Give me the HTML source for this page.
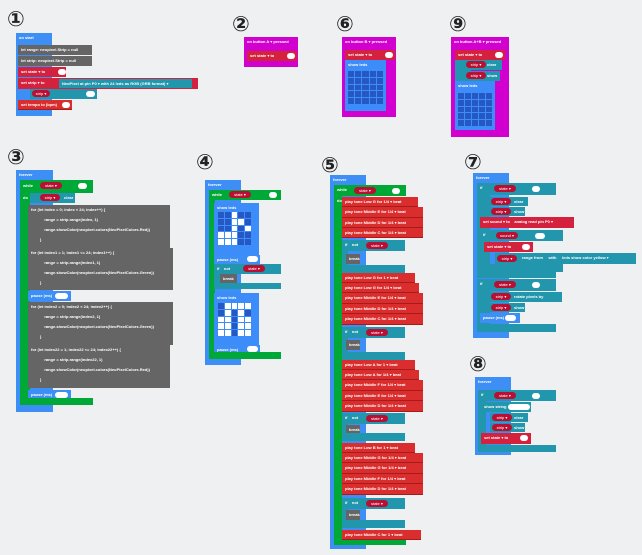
<!DOCTYPE html>
<html><head><meta charset="utf-8">
<style>
body{margin:0;width:642px;height:555px;background:#eef0f2;position:relative;overflow:hidden;font-family:"Liberation Sans","DejaVu Sans",sans-serif}
.b{position:absolute;color:#fff;font-size:4px;font-weight:bold;line-height:9px;padding-left:3px;box-sizing:border-box;white-space:nowrap;overflow:hidden}
.n{position:absolute;font-size:21px;font-weight:bold;color:#222;font-family:"DejaVu Sans",sans-serif;line-height:19px}
.bl{background:#3d8ff5}.gr{background:#00a838}.rd{background:#d4213d}.mu{background:#da2e2e;border-bottom:1px solid #a81b1b}
.gy{background:#656565}.tl{background:#2196ad}.mg{background:#d100cf}.lb{background:#3c8dfa}
.p{position:absolute;background:#fff;border-radius:4px;height:6px}
.vp{position:absolute;background:#b80f33;border-radius:4px;height:7px;color:#fff;font-size:4px;line-height:7px;text-align:center}
.g{position:absolute;display:grid;grid-template-columns:repeat(5,1fr);gap:1px}
.g i{background:#2658c4;display:block}.g i.w{background:#fff}
</style></head><body>

<!-- 1 -->
<div class="n" style="left:7px;top:10px">①</div>
<div class="b bl" style="left:16px;top:33px;width:36px;height:83px">on start</div>
<div class="b gy" style="left:18px;top:45px;width:74px;height:10px">let range: neopixel.Strip = null</div>
<div class="b gy" style="left:18px;top:56px;width:74px;height:10px">let strip: neopixel.Strip = null</div>
<div class="b rd" style="left:18px;top:67px;width:48px;height:10px">set state ▾ to</div>
<div class="p" style="left:58px;top:69px;width:8px"></div>
<div class="b rd" style="left:18px;top:78px;width:180px;height:11px">set strip ▾ to</div>
<div class="b tl" style="left:59px;top:79px;width:133px;height:9px">NeoPixel at pin P0 ▾ with 24 leds as RGB (GRB format) ▾</div>
<div class="b tl" style="left:30px;top:89px;width:67px;height:10px"></div>
<div class="vp" style="left:32px;top:90px;width:18px">strip ▾</div>
<div class="p" style="left:86px;top:91px;width:9px"></div>
<div class="b mu" style="left:18px;top:100px;width:54px;height:10px">set tempo to (bpm)</div>
<div class="p" style="left:62px;top:102px;width:8px"></div>

<!-- 2 -->
<div class="n" style="left:232px;top:15px">②</div>
<div class="b mg" style="left:244px;top:37px;width:54px;height:30px">on button A ▾ pressed</div>
<div class="b rd" style="left:247px;top:51px;width:50px;height:10px">set state ▾ to</div>
<div class="p" style="left:287px;top:53px;width:8px"></div>

<!-- 6 -->
<div class="n" style="left:336px;top:15px">⑥</div>
<div class="b mg" style="left:342px;top:37px;width:54px;height:80px">on button B ▾ pressed</div>
<div class="b rd" style="left:345px;top:50px;width:50px;height:10px">set state ▾ to</div>
<div class="p" style="left:385px;top:52px;width:8px"></div>
<div class="b lb" style="left:345px;top:60px;width:41px;height:51px">show leds</div>
<div class="g" style="left:348px;top:71px;width:35px;height:33px"><i></i><i></i><i></i><i></i><i></i><i></i><i></i><i></i><i></i><i></i><i></i><i></i><i></i><i></i><i></i><i></i><i></i><i></i><i></i><i></i><i></i><i></i><i></i><i></i><i></i></div>

<!-- 9 -->
<div class="n" style="left:449px;top:15px">⑨</div>
<div class="b mg" style="left:451px;top:37px;width:58px;height:100px">on button A+B ▾ pressed</div>
<div class="b rd" style="left:455px;top:50px;width:50px;height:10px">set state ▾ to</div>
<div class="p" style="left:495px;top:52px;width:8px"></div>
<div class="b tl" style="left:455px;top:60px;width:16px;height:21px"></div>
<div class="b tl" style="left:465px;top:60px;width:37px;height:10px;padding-left:22px">clear</div>
<div class="vp" style="left:466px;top:61px;width:20px">strip ▾</div>
<div class="b tl" style="left:465px;top:71px;width:35px;height:10px;padding-left:22px">show</div>
<div class="vp" style="left:466px;top:72px;width:20px">strip ▾</div>
<div class="b lb" style="left:455px;top:81px;width:40px;height:49px">show leds</div>
<div class="g" style="left:458px;top:93px;width:34px;height:33px"><i></i><i></i><i></i><i></i><i></i><i></i><i></i><i></i><i></i><i></i><i></i><i></i><i></i><i></i><i></i><i></i><i></i><i></i><i></i><i></i><i></i><i></i><i></i><i></i><i></i></div>

<!-- 3 -->
<div class="n" style="left:7px;top:148px">③</div>
<div class="b bl" style="left:16px;top:170px;width:37px;height:242px">forever</div>
<div class="b gr" style="left:20px;top:180px;width:73px;height:13px;line-height:11px">while</div>
<div class="vp" style="left:40px;top:182px;width:22px">state ▾</div>
<div class="p" style="left:78px;top:183px;width:9px"></div>
<div class="b gr" style="left:20px;top:193px;width:10px;height:212px">do</div>
<div class="b tl" style="left:30px;top:193px;width:45px;height:10px;padding-left:34px">clear</div>
<div class="vp" style="left:40px;top:194px;width:20px">strip ▾</div>
<div class="b gy" style="left:28px;top:205px;width:142px;height:43px;line-height:10px">for (let index = 0; index &lt; 24; index++) {<br>&nbsp;&nbsp;&nbsp;&nbsp;&nbsp;&nbsp;&nbsp;&nbsp;&nbsp;&nbsp;&nbsp;&nbsp;range = strip.range(index, 1)<br>&nbsp;&nbsp;&nbsp;&nbsp;&nbsp;&nbsp;&nbsp;&nbsp;&nbsp;&nbsp;&nbsp;&nbsp;range.showColor(neopixel.colors(NeoPixelColors.Red))<br>&nbsp;&nbsp;&nbsp;&nbsp;&nbsp;&nbsp;&nbsp;&nbsp;}</div>
<div class="b gy" style="left:28px;top:248px;width:145px;height:42px;line-height:10px">for (let index1 = 1; index1 &lt;= 24; index1++) {<br>&nbsp;&nbsp;&nbsp;&nbsp;&nbsp;&nbsp;&nbsp;&nbsp;&nbsp;&nbsp;&nbsp;&nbsp;range = strip.range(index1, 1)<br>&nbsp;&nbsp;&nbsp;&nbsp;&nbsp;&nbsp;&nbsp;&nbsp;&nbsp;&nbsp;&nbsp;&nbsp;range.showColor(neopixel.colors(NeoPixelColors.Green))<br>&nbsp;&nbsp;&nbsp;&nbsp;&nbsp;&nbsp;&nbsp;&nbsp;}</div>
<div class="b bl" style="left:28px;top:291px;width:43px;height:10px">pause (ms)</div>
<div class="p" style="left:55px;top:293px;width:13px"></div>
<div class="b gy" style="left:28px;top:302px;width:145px;height:43px;line-height:10px">for (let index2 = 0; index2 &lt; 24; index2++) {<br>&nbsp;&nbsp;&nbsp;&nbsp;&nbsp;&nbsp;&nbsp;&nbsp;&nbsp;&nbsp;&nbsp;&nbsp;range = strip.range(index2, 1)<br>&nbsp;&nbsp;&nbsp;&nbsp;&nbsp;&nbsp;&nbsp;&nbsp;&nbsp;&nbsp;&nbsp;&nbsp;range.showColor(neopixel.colors(NeoPixelColors.Green))<br>&nbsp;&nbsp;&nbsp;&nbsp;&nbsp;&nbsp;&nbsp;&nbsp;}</div>
<div class="b gy" style="left:28px;top:345px;width:142px;height:43px;line-height:10px">for (let index22 = 1; index22 &lt;= 24; index22++) {<br>&nbsp;&nbsp;&nbsp;&nbsp;&nbsp;&nbsp;&nbsp;&nbsp;&nbsp;&nbsp;&nbsp;&nbsp;range = strip.range(index22, 1)<br>&nbsp;&nbsp;&nbsp;&nbsp;&nbsp;&nbsp;&nbsp;&nbsp;&nbsp;&nbsp;&nbsp;&nbsp;range.showColor(neopixel.colors(NeoPixelColors.Red))<br>&nbsp;&nbsp;&nbsp;&nbsp;&nbsp;&nbsp;&nbsp;&nbsp;}</div>
<div class="b bl" style="left:28px;top:390px;width:43px;height:10px">pause (ms)</div>
<div class="p" style="left:55px;top:392px;width:13px"></div>
<div class="b gr" style="left:20px;top:398px;width:73px;height:7px"></div>

<!-- 4 -->
<div class="n" style="left:196px;top:153px">④</div>
<div class="b bl" style="left:205px;top:180px;width:36px;height:185px">forever</div>
<div class="b gr" style="left:209px;top:190px;width:72px;height:10px">while</div>
<div class="vp" style="left:229px;top:191px;width:22px">state ▾</div>
<div class="p" style="left:269px;top:192px;width:8px"></div>
<div class="b gr" style="left:209px;top:200px;width:6px;height:155px"></div>
<div class="b lb" style="left:214px;top:203px;width:45px;height:52px">show leds</div>
<div class="g" style="left:218px;top:212px;width:33px;height:33px"><i></i><i></i><i class="w"></i><i></i><i></i><i></i><i></i><i class="w"></i><i class="w"></i><i></i><i></i><i></i><i class="w"></i><i></i><i class="w"></i><i class="w"></i><i class="w"></i><i class="w"></i><i></i><i></i><i class="w"></i><i class="w"></i><i class="w"></i><i></i><i></i></div>
<div class="b bl" style="left:214px;top:255px;width:46px;height:9px">pause (ms)</div>
<div class="p" style="left:247px;top:256px;width:11px"></div>
<div class="b tl" style="left:214px;top:264px;width:67px;height:10px">if &nbsp;&nbsp; not</div>
<div class="vp" style="left:243px;top:265px;width:22px">state ▾</div>
<div class="b tl" style="left:214px;top:274px;width:6px;height:14px"></div>
<div class="b gy" style="left:220px;top:274px;width:17px;height:9px">break</div>
<div class="b tl" style="left:214px;top:283px;width:67px;height:6px"></div>
<div class="b lb" style="left:214px;top:293px;width:45px;height:52px">show leds</div>
<div class="g" style="left:218px;top:303px;width:33px;height:33px"><i></i><i class="w"></i><i class="w"></i><i class="w"></i><i class="w"></i><i></i><i class="w"></i><i></i><i class="w"></i><i></i><i class="w"></i><i class="w"></i><i></i><i class="w"></i><i class="w"></i><i class="w"></i><i class="w"></i><i></i><i class="w"></i><i class="w"></i><i class="w"></i><i class="w"></i><i></i><i class="w"></i><i class="w"></i></div>
<div class="b bl" style="left:214px;top:345px;width:46px;height:9px">pause (ms)</div>
<div class="p" style="left:247px;top:346px;width:11px"></div>
<div class="b gr" style="left:209px;top:352px;width:72px;height:7px"></div>

<!-- 5 -->
<div class="n" style="left:321px;top:156px">⑤</div>
<div class="b bl" style="left:330px;top:175px;width:36px;height:374px">forever</div>
<div class="b gr" style="left:334px;top:185px;width:72px;height:11px">while</div>
<div class="vp" style="left:354px;top:187px;width:22px">state ▾</div>
<div class="p" style="left:392px;top:188px;width:8px"></div>
<div class="b gr" style="left:334px;top:196px;width:8px;height:349px">do</div>
<div class="b gr" style="left:334px;top:538px;width:72px;height:7px"></div>

<div class="b mu" style="left:342px;top:197px;width:76px;height:10px">play tone Low G for 1/4 ▾ beat</div>
<div class="b mu" style="left:342px;top:207px;width:81px;height:11px">play tone Middle E for 1/4 ▾ beat</div>
<div class="b mu" style="left:342px;top:218px;width:81px;height:10px">play tone Middle D for 1/4 ▾ beat</div>
<div class="b mu" style="left:342px;top:228px;width:81px;height:10px">play tone Middle C for 1/4 ▾ beat</div>
<div class="b tl" style="left:342px;top:240px;width:63px;height:11px">if &nbsp;&nbsp; not &nbsp;&nbsp;&nbsp;&nbsp;&nbsp;&nbsp;&nbsp;&nbsp;&nbsp;&nbsp;&nbsp;&nbsp;&nbsp;&nbsp;&nbsp;&nbsp;&nbsp; then</div>
<div class="vp" style="left:366px;top:242px;width:22px">state ▾</div>
<div class="b tl" style="left:342px;top:251px;width:6px;height:14px"></div>
<div class="b gy" style="left:346px;top:254px;width:14px;height:10px">break</div>
<div class="b tl" style="left:342px;top:265px;width:63px;height:8px"></div>

<div class="b mu" style="left:342px;top:273px;width:73px;height:10px">play tone Low G for 1 ▾ beat</div>
<div class="b mu" style="left:342px;top:283px;width:77px;height:10px">play tone Low G for 1/4 ▾ beat</div>
<div class="b mu" style="left:342px;top:293px;width:81px;height:11px">play tone Middle E for 1/4 ▾ beat</div>
<div class="b mu" style="left:342px;top:304px;width:81px;height:10px">play tone Middle D for 1/4 ▾ beat</div>
<div class="b mu" style="left:342px;top:314px;width:81px;height:11px">play tone Middle C for 1/4 ▾ beat</div>
<div class="b tl" style="left:342px;top:327px;width:63px;height:11px">if &nbsp;&nbsp; not &nbsp;&nbsp;&nbsp;&nbsp;&nbsp;&nbsp;&nbsp;&nbsp;&nbsp;&nbsp;&nbsp;&nbsp;&nbsp;&nbsp;&nbsp;&nbsp;&nbsp; then</div>
<div class="vp" style="left:366px;top:329px;width:22px">state ▾</div>
<div class="b tl" style="left:342px;top:338px;width:6px;height:14px"></div>
<div class="b gy" style="left:346px;top:340px;width:14px;height:10px">break</div>
<div class="b tl" style="left:342px;top:352px;width:63px;height:8px"></div>

<div class="b mu" style="left:342px;top:360px;width:73px;height:10px">play tone Low A for 1 ▾ beat</div>
<div class="b mu" style="left:342px;top:370px;width:77px;height:10px">play tone Low A for 1/4 ▾ beat</div>
<div class="b mu" style="left:342px;top:380px;width:81px;height:11px">play tone Middle F for 1/4 ▾ beat</div>
<div class="b mu" style="left:342px;top:391px;width:81px;height:10px">play tone Middle E for 1/4 ▾ beat</div>
<div class="b mu" style="left:342px;top:401px;width:81px;height:11px">play tone Middle D for 1/4 ▾ beat</div>
<div class="b tl" style="left:342px;top:413px;width:63px;height:11px">if &nbsp;&nbsp; not &nbsp;&nbsp;&nbsp;&nbsp;&nbsp;&nbsp;&nbsp;&nbsp;&nbsp;&nbsp;&nbsp;&nbsp;&nbsp;&nbsp;&nbsp;&nbsp;&nbsp; then</div>
<div class="vp" style="left:366px;top:415px;width:22px">state ▾</div>
<div class="b tl" style="left:342px;top:424px;width:6px;height:14px"></div>
<div class="b gy" style="left:346px;top:425px;width:14px;height:10px">break</div>
<div class="b tl" style="left:342px;top:433px;width:63px;height:8px"></div>

<div class="b mu" style="left:342px;top:443px;width:73px;height:10px">play tone Low B for 1 ▾ beat</div>
<div class="b mu" style="left:342px;top:453px;width:81px;height:10px">play tone Middle G for 1/4 ▾ beat</div>
<div class="b mu" style="left:342px;top:463px;width:81px;height:11px">play tone Middle G for 1/4 ▾ beat</div>
<div class="b mu" style="left:342px;top:474px;width:81px;height:10px">play tone Middle F for 1/4 ▾ beat</div>
<div class="b mu" style="left:342px;top:484px;width:81px;height:11px">play tone Middle D for 1/4 ▾ beat</div>
<div class="b tl" style="left:342px;top:498px;width:63px;height:11px">if &nbsp;&nbsp; not &nbsp;&nbsp;&nbsp;&nbsp;&nbsp;&nbsp;&nbsp;&nbsp;&nbsp;&nbsp;&nbsp;&nbsp;&nbsp;&nbsp;&nbsp;&nbsp;&nbsp; then</div>
<div class="vp" style="left:366px;top:500px;width:22px">state ▾</div>
<div class="b tl" style="left:342px;top:509px;width:6px;height:14px"></div>
<div class="b gy" style="left:346px;top:510px;width:14px;height:10px">break</div>
<div class="b tl" style="left:342px;top:520px;width:63px;height:8px"></div>
<div class="b mu" style="left:342px;top:530px;width:79px;height:10px">play tone Middle C for 1 ▾ beat</div>

<!-- 7 -->
<div class="n" style="left:464px;top:153px">⑦</div>
<div class="b bl" style="left:473px;top:173px;width:36px;height:165px">forever</div>
<div class="b tl" style="left:477px;top:183px;width:79px;height:12px">if</div>
<div class="vp" style="left:494px;top:185px;width:22px">state ▾</div>
<div class="p" style="left:532px;top:186px;width:8px"></div>
<div class="b tl" style="left:477px;top:195px;width:13px;height:83px"></div>
<div class="b tl" style="left:490px;top:197px;width:38px;height:9px;padding-left:24px">clear</div>
<div class="vp" style="left:491px;top:198px;width:20px">strip ▾</div>
<div class="b tl" style="left:490px;top:207px;width:35px;height:9px;padding-left:24px">show</div>
<div class="vp" style="left:491px;top:208px;width:20px">strip ▾</div>
<div class="b rd" style="left:480px;top:217px;width:94px;height:11px">set sound ▾ to &nbsp;&nbsp;&nbsp;analog read pin P0 ▾</div>
<div class="b tl" style="left:480px;top:230px;width:83px;height:11px">if</div>
<div class="vp" style="left:496px;top:232px;width:22px">sound ▾</div>
<div class="p" style="left:535px;top:233px;width:10px"></div>
<div class="b rd" style="left:484px;top:242px;width:49px;height:10px">set state ▾ to</div>
<div class="p" style="left:522px;top:244px;width:8px"></div>
<div class="b tl" style="left:495px;top:253px;width:141px;height:11px;padding-left:27px">range from &nbsp;&nbsp;&nbsp; with &nbsp;&nbsp;&nbsp; leds show color yellow ▾</div>
<div class="vp" style="left:497px;top:255px;width:20px">strip ▾</div>
<div class="b tl" style="left:480px;top:264px;width:83px;height:8px"></div>
<div class="b tl" style="left:477px;top:272px;width:79px;height:6px"></div>
<div class="b tl" style="left:477px;top:279px;width:79px;height:12px">if</div>
<div class="vp" style="left:494px;top:281px;width:22px">state ▾</div>
<div class="p" style="left:532px;top:282px;width:8px"></div>
<div class="b tl" style="left:477px;top:291px;width:13px;height:34px"></div>
<div class="b tl" style="left:490px;top:292px;width:72px;height:10px;padding-left:24px">rotate pixels by</div>
<div class="vp" style="left:491px;top:293px;width:20px">strip ▾</div>
<div class="b tl" style="left:490px;top:303px;width:35px;height:9px;padding-left:24px">show</div>
<div class="vp" style="left:491px;top:304px;width:20px">strip ▾</div>
<div class="b bl" style="left:480px;top:313px;width:40px;height:10px">pause (ms)</div>
<div class="p" style="left:505px;top:315px;width:11px"></div>
<div class="b tl" style="left:477px;top:324px;width:79px;height:8px"></div>

<!-- 8 -->
<div class="n" style="left:469px;top:355px">⑧</div>
<div class="b bl" style="left:475px;top:377px;width:36px;height:78px">forever</div>
<div class="b tl" style="left:478px;top:390px;width:78px;height:11px">if</div>
<div class="vp" style="left:494px;top:392px;width:22px">state ▾</div>
<div class="p" style="left:532px;top:393px;width:8px"></div>
<div class="b tl" style="left:478px;top:401px;width:8px;height:45px"></div>
<div class="b tl" style="left:481px;top:402px;width:50px;height:10px">show string</div>
<div class="p" style="left:508px;top:404px;width:22px"></div>
<div class="b tl" style="left:490px;top:413px;width:38px;height:9px;padding-left:24px">clear</div>
<div class="vp" style="left:492px;top:414px;width:20px">strip ▾</div>
<div class="b tl" style="left:490px;top:423px;width:35px;height:9px;padding-left:24px">show</div>
<div class="vp" style="left:492px;top:424px;width:20px">strip ▾</div>
<div class="b rd" style="left:481px;top:433px;width:50px;height:11px">set state ▾ to</div>
<div class="p" style="left:520px;top:435px;width:8px"></div>
<div class="b tl" style="left:478px;top:445px;width:78px;height:7px"></div>

</body></html>
